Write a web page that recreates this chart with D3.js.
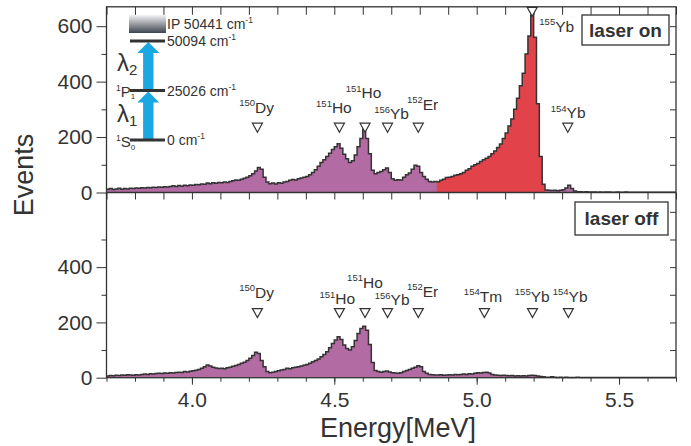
<!DOCTYPE html>
<html>
<head>
<meta charset="utf-8">
<script src="https://cdn.jsdelivr.net/npm/d3@7"></script>
<style>
  body { margin: 0; background: #fff; }
  svg { font-family: "Liberation Sans", Arial, Helvetica, sans-serif; }
  text { fill: #333; }
</style>
</head>
<body>
<svg width="691" height="446"></svg>
<script>
// bins start at 3.70 MeV, 0.01 MeV wide
const binStart = 3.70
const binWidth = 0.01

const laserOn = [
  12, 14, 11, 13, 15, 12, 14, 13, 15, 14,
  16, 15, 17, 16, 18, 17, 19, 18, 20, 19,
  21, 20, 22, 24, 22, 25, 23, 26, 24, 27,
  26, 29, 28, 31, 30, 34, 32, 35, 33, 36,
  35, 38, 36, 40, 42, 45, 44, 48, 51, 55,
  60, 68, 78, 90, 84, 55, 38, 32, 34, 31,
  35, 33, 38, 40, 44, 47, 45, 50, 52, 55,
  58, 64, 72, 82, 95, 108, 118, 130, 142, 155,
  165, 176, 160, 138, 122, 108, 115, 135, 165, 195,
  228, 195, 140, 80, 68, 72, 76, 82, 88, 72,
  50, 44, 46, 45, 55, 64, 70, 84, 98, 95,
  72, 58, 48, 40, 38, 40, 39, 44, 48, 54,
  55, 58, 62, 64, 68, 72, 80, 86, 95, 100,
  105, 112, 118, 124, 130, 140, 150, 162, 175, 195,
  215, 240, 265, 300, 340, 385, 430, 500, 565, 640,
  560, 320, 130, 30, 9, 8, 7, 8, 6, 8,
  10, 16, 26, 14, 5, 3, 3, 2, 3, 2,
  2, 2, 1, 2, 1, 2, 2, 1, 1, 2,
  1, 1, 2, 1, 1, 1, 1, 1, 1, 1,
  1, 1, 1, 1, 1, 1, 1, 1, 1, 1
]

const laserOff = [
  6, 8, 7, 9, 8, 10, 9, 11, 10, 9,
  11, 10, 12, 13, 12, 14, 13, 15, 16, 15,
  17, 16, 18, 17, 19, 20, 19, 22, 21, 23,
  25, 27, 30, 34, 40, 46, 42, 38, 35, 33,
  34, 32, 36, 38, 41, 44, 48, 52, 56, 62,
  70, 80, 92, 88, 62, 40, 22, 18, 20, 22,
  25, 28, 30, 34, 32, 36, 38, 40, 42, 45,
  48, 52, 58, 62, 68, 76, 84, 94, 108, 124,
  136, 148, 138, 118, 106, 100, 112, 135, 160, 178,
  186, 172, 120, 55, 26, 22, 20, 22, 24, 21,
  18, 17, 16, 18, 22, 26, 30, 34, 38, 43,
  40, 22, 16, 12, 11, 10, 10, 11, 9, 10,
  11, 10, 12, 11, 12, 13, 12, 14, 13, 16,
  18, 17, 19, 20, 17, 12, 10, 9, 8, 9,
  8, 7, 8, 6, 7, 6, 7, 6, 8, 9,
  8, 6, 4, 3, 2, 2, 3, 2, 1, 2,
  1, 2, 1, 1, 1, 2, 1, 1, 1, 1,
  1, 1, 1, 1, 1, 1, 1, 1, 1, 1,
  1, 1, 1, 1, 1, 1, 1, 1, 1, 1,
  1, 1, 1, 1, 1, 1, 1, 1, 1, 1
]

// red part of the laser-on spectrum (155Yb resonance)
const redRange = [4.86, 5.24]

const xMajor = [4.0, 4.5, 5.0, 5.5]
const yMajorTop = [0, 200, 400, 600]
const yMajorBottom = [0, 200, 400]

// e = triangle energy, t = triangle top (counts), lx = label left edge, ly = label baseline
const topMarks = [
  {iso: "150", el: "Dy", e: 4.23, t: 250, lx: 4.166, ly: 287},
  {iso: "151", el: "Ho", e: 4.518, t: 250, lx: 4.436, ly: 286},
  {iso: "151", el: "Ho", e: 4.608, t: 250, lx: 4.540, ly: 340},
  {iso: "156", el: "Yb", e: 4.687, t: 250, lx: 4.640, ly: 265},
  {iso: "152", el: "Er", e: 4.795, t: 250, lx: 4.755, ly: 298},
  {iso: "155", el: "Yb", e: 5.195, t: 670, lx: 5.22, ly: 580},
  {iso: "154", el: "Yb", e: 5.32, t: 250, lx: 5.26, ly: 268}
]
const bottomMarks = [
  {iso: "150", el: "Dy", e: 4.23, t: 250, lx: 4.166, ly: 289},
  {iso: "151", el: "Ho", e: 4.518, t: 250, lx: 4.448, ly: 265},
  {iso: "151", el: "Ho", e: 4.608, t: 250, lx: 4.545, ly: 325},
  {iso: "156", el: "Yb", e: 4.687, t: 250, lx: 4.642, ly: 262},
  {iso: "152", el: "Er", e: 4.795, t: 250, lx: 4.755, ly: 292},
  {iso: "154", el: "Tm", e: 5.027, t: 250, lx: 4.955, ly: 274},
  {iso: "155", el: "Yb", e: 5.196, t: 250, lx: 5.134, ly: 274},
  {iso: "154", el: "Yb", e: 5.322, t: 250, lx: 5.267, ly: 274}
]

// level scheme (cm-1)
const levelEnergies = [0, 25026, 50094]
const ionization = 50441

const ink = "#333"
const purple = "#b26ba3"
const red = "#e2434b"

const svg = d3.select("svg")
const left = 106.5, right = 676
const topY = 6.8, midY = 192.5, botY = 377.7

const x = d3.scaleLinear().domain([3.7, 5.7]).range([left, right])
const yTop = d3.scaleLinear().domain([0, 670]).range([midY, topY])
const yBot = d3.scaleLinear().domain([0, 670]).range([botY, midY])

const minors = d3.range(37, 58).map(d => d / 10)
const yMinor = d3.range(0, 700, 100)

function points(counts) {
    let p = counts.map((c, i) => ({e: binStart + i * binWidth, c: c}))
    p.push({e: binStart + counts.length * binWidth, c: counts[counts.length - 1]})
    return p
}

function drawSpectrum(counts, y, withRed) {
    let pts = points(counts)
    let g = svg.append("g")
    let area = d3.area()
        .curve(d3.curveStepAfter)
        .x(d => x(d.e))
        .y0(y(0))
        .y1(d => y(d.c))
    g.append("path").datum(pts).attr("fill", purple).attr("d", area)
    if (withRed) {
        let sub = pts.filter(d => d.e >= redRange[0] - 1e-9 && d.e <= redRange[1] + 1e-9)
        g.append("path").datum(sub).attr("fill", red).attr("d", area)
    }
    let line = d3.line()
        .curve(d3.curveStepAfter)
        .x(d => x(d.e))
        .y(d => y(d.c))
    g.append("path").datum(pts)
        .attr("fill", "none")
        .attr("stroke", ink)
        .attr("stroke-width", 1.5)
        .attr("d", line)
}

drawSpectrum(laserOn, yTop, true)
drawSpectrum(laserOff, yBot, false)

function styleAxis(g) {
    g.select(".domain").remove()
    g.selectAll("line").attr("stroke", ink)
    g.selectAll("text").attr("fill", ink).style("font-size", "21px")
}

// x ticks
svg.append("g").attr("transform", `translate(0,${botY})`)
    .call(d3.axisBottom(x).tickValues(minors).tickSize(4).tickFormat(""))
    .call(styleAxis)
svg.append("g").attr("transform", `translate(0,${botY})`)
    .call(d3.axisBottom(x).tickValues(xMajor).tickSize(7).tickPadding(7).tickFormat(d3.format(".1f")))
    .call(styleAxis)
svg.append("g").attr("transform", `translate(0,${midY})`)
    .call(d3.axisBottom(x).tickValues(minors).tickSize(7).tickFormat(""))
    .call(styleAxis)
svg.append("g").attr("transform", `translate(0,${topY})`)
    .call(d3.axisBottom(x).tickValues(minors).tickSize(8).tickFormat(""))
    .call(styleAxis)

// y ticks
;[[yTop, yMajorTop], [yBot, yMajorBottom]].forEach(([y, major]) => {
    svg.append("g").attr("transform", `translate(${left},0)`)
        .call(d3.axisLeft(y).tickValues(yMinor.filter(d => d % 200)).tickSize(5).tickFormat(""))
        .call(styleAxis)
    svg.append("g").attr("transform", `translate(${left},0)`)
        .call(d3.axisLeft(y).tickValues(major).tickSize(10).tickPadding(4))
        .call(styleAxis)
    svg.append("g").attr("transform", `translate(${right},0)`)
        .call(d3.axisLeft(y).tickValues(yMinor.filter(d => d > 0)).tickSize(6).tickFormat(""))
        .call(styleAxis)
})

// frame
svg.append("rect")
    .attr("x", left).attr("y", topY)
    .attr("width", right - left).attr("height", botY - topY)
    .attr("fill", "none").attr("stroke", ink).attr("stroke-width", 1.3)
svg.append("line")
    .attr("x1", left).attr("x2", right).attr("y1", midY).attr("y2", midY)
    .attr("stroke", ink).attr("stroke-width", 1.3)

// isotope markers
function drawMarks(marks, y) {
    let g = svg.append("g")
    g.selectAll("path.tri").data(marks).enter().append("path")
        .attr("class", "tri")
        .attr("transform", d => `translate(${x(d.e)},${Math.max(y(d.t), y.range()[1] + 0.5)})`)
        .attr("d", "M-5,0L5,0L0,9Z")
        .attr("fill", "#fff").attr("stroke", ink).attr("stroke-width", 1.2)
    let t = g.selectAll("text").data(marks).enter().append("text")
        .attr("x", d => x(d.lx))
        .attr("y", d => y(d.ly))
    t.append("tspan").attr("dy", -6.5).style("font-size", "9.5px").text(d => d.iso)
    t.append("tspan").attr("dy", 6.5).style("font-size", "15.5px").text(d => d.el)
}
drawMarks(topMarks, yTop)
drawMarks(bottomMarks, yBot)

// legend boxes
function tag(label, x0, y0, w, h) {
    svg.append("rect").attr("x", x0).attr("y", y0).attr("width", w).attr("height", h)
        .attr("fill", "#fff").attr("stroke", ink).attr("stroke-width", 1.3)
    svg.append("text").attr("x", x0 + w / 2).attr("y", y0 + h / 2 + 6.5)
        .attr("text-anchor", "middle")
        .style("font-size", "19px").style("font-weight", "bold")
        .text(label)
}
tag("laser on", 582, 15, 87, 30)
tag("laser off", 575, 202, 93, 33)

// axis titles
svg.append("text")
    .attr("transform", "translate(33,175) rotate(-90)")
    .attr("text-anchor", "middle")
    .style("font-size", "27px")
    .text("Events")
svg.append("text")
    .attr("x", 398).attr("y", 437)
    .attr("text-anchor", "middle")
    .style("font-size", "27px")
    .text("Energy[MeV]")

// level scheme inset
const ly = d3.scaleLinear().domain([0, levelEnergies[2]]).range([140, 41])
const lx0 = 130, lx1 = 165, ax = 148.3
const inset = svg.append("g")

const grad = svg.append("defs").append("linearGradient")
    .attr("id", "ip").attr("x1", 0).attr("x2", 0).attr("y1", 0).attr("y2", 1)
grad.append("stop").attr("offset", 0).attr("stop-color", "#f2f3f6")
grad.append("stop").attr("offset", 1).attr("stop-color", "#3e454d")
inset.append("rect")
    .attr("x", lx0 - 1).attr("y", ly(levelEnergies[2]) - 26)
    .attr("width", lx1 - lx0 + 2).attr("height", 18)
    .attr("fill", "url(#ip)")

function arrow(yFrom, yTo) {
    let hw = 11, sw = 5.2, hh = 11
    let p = d3.path()
    p.moveTo(ax - sw, yFrom)
    p.lineTo(ax - sw, yTo + hh)
    p.lineTo(ax - hw, yTo + hh)
    p.lineTo(ax, yTo)
    p.lineTo(ax + hw, yTo + hh)
    p.lineTo(ax + sw, yTo + hh)
    p.lineTo(ax + sw, yFrom)
    p.closePath()
    inset.append("path").attr("d", p.toString()).attr("fill", "#1aa7e3")
}
arrow(ly(levelEnergies[0]) - 1, ly(levelEnergies[1]) + 1)
arrow(ly(levelEnergies[1]) - 1, ly(levelEnergies[2]) + 1)

inset.selectAll("line.lvl").data(levelEnergies).enter().append("line")
    .attr("x1", lx0).attr("x2", lx1)
    .attr("y1", d => ly(d)).attr("y2", d => ly(d))
    .attr("stroke", ink).attr("stroke-width", 3)

function cmLabel(yPos, value) {
    let t = inset.append("text").attr("x", lx1 + 2).attr("y", yPos).style("font-size", "14px")
    t.append("tspan").text(value + " cm")
    t.append("tspan").attr("dy", -6).style("font-size", "8.5px").text("-1")
}
cmLabel(ly(levelEnergies[2]) + 5, levelEnergies[2])
cmLabel(ly(levelEnergies[1]) + 5, levelEnergies[1])
cmLabel(ly(levelEnergies[0]) + 5, levelEnergies[0])
cmLabel(ly(levelEnergies[2]) - 12, "IP " + ionization)

function term(yPos, sup, letter, sub) {
    let t = inset.append("text").attr("x", 116).attr("y", yPos).style("font-size", "15px")
    t.append("tspan").attr("dy", -6).style("font-size", "8.5px").text(sup)
    t.append("tspan").attr("dy", 6).text(letter)
    t.append("tspan").attr("dy", 2.5).style("font-size", "8px").text(sub)
}
term(ly(levelEnergies[1]) + 6, "1", "P", "1")
term(ly(levelEnergies[0]) + 7, "1", "S", "0")

function lambda(yPos, sub) {
    let t = inset.append("text").attr("x", 117).attr("y", yPos).style("font-size", "24px")
    t.append("tspan").text("λ")
    t.append("tspan").attr("dy", 4).style("font-size", "15px").text(sub)
}
lambda(71, "2")
lambda(122, "1")
</script>
</body>
</html>
